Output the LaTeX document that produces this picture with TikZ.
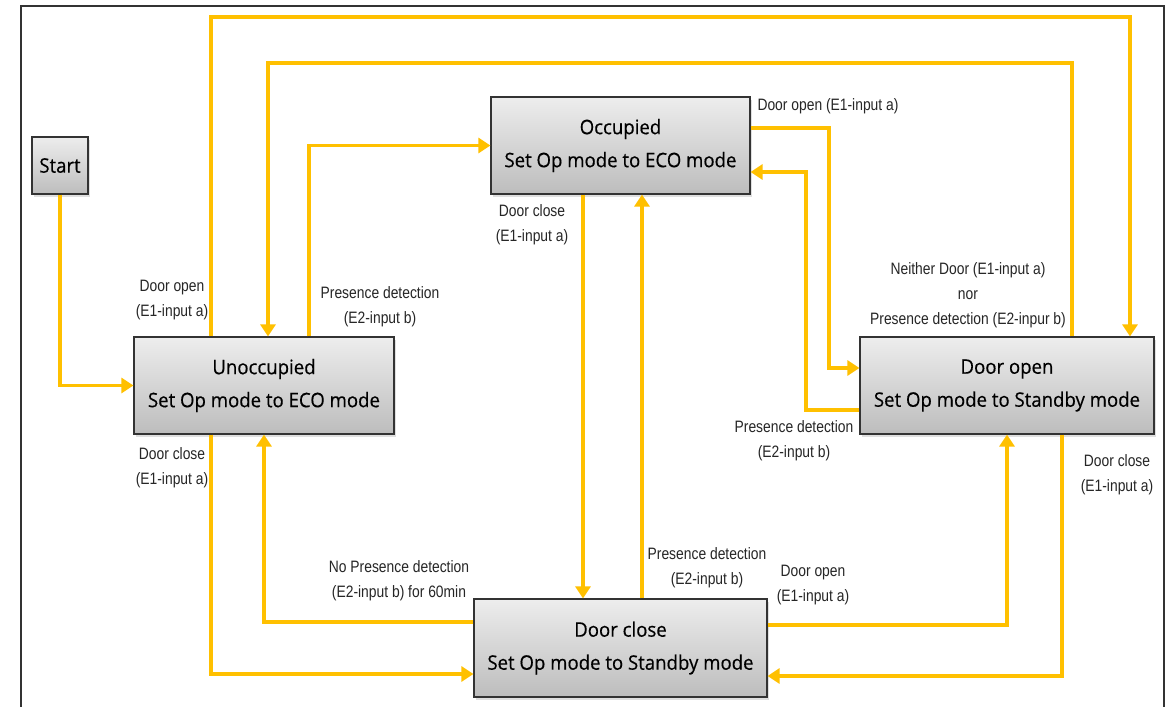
\documentclass[tikz,border=0pt]{standalone}
\usepackage{fontspec}
\setmainfont{Open Sans}
\newfontfamily\boxfont[FakeStretch=0.93,FakeBold=0.4]{Open Sans}
\newfontfamily\lblfont[FakeStretch=0.84]{Liberation Sans}
\usetikzlibrary{arrows.meta,shadows}
\definecolor{amber}{HTML}{FFC000}
\definecolor{boxtop}{HTML}{EDEDED}
\definecolor{boxbot}{HTML}{BDBDBD}
\definecolor{frame}{HTML}{333333}
\tikzset{
  statebox/.style={draw=frame, line width=1.2pt, top color=boxtop, bottom color=boxbot,
    drop shadow={shadow xshift=2pt, shadow yshift=-2.5pt, opacity=0.25},
    align=center, inner sep=0pt, font=\boxfont\fontsize{20}{33}\selectfont},
  arr/.style={draw=amber, line width=3.6pt, -{Triangle[length=12pt,width=15pt]}},
  lbl/.style={align=center, inner sep=0pt, text=black!85, font=\lblfont\fontsize{16.5}{25}\selectfont}
}
\begin{document}
\begin{tikzpicture}[x=1pt,y=-1pt]
\useasboundingbox (0,0) rectangle (1173,707);
\fill[white] (0,0) rectangle (1173,707);
\draw[frame, line width=1.4pt] (21,707) -- (21,6) -- (1164,6) -- (1164,707);

\node[statebox, minimum width=56pt, minimum height=57pt] (start) at (60,165.5) {Start};
\node[statebox, minimum width=260pt, minimum height=97pt] (unocc) at (264,385.5) {Unoccupied\\Set Op mode to ECO mode};
\node[statebox, minimum width=259pt, minimum height=97pt] (occ) at (620.5,145.5) {Occupied\\Set Op mode to ECO mode};
\node[statebox, minimum width=294pt, minimum height=97pt] (dopen) at (1007,385.5) {Door open\\Set Op mode to Standby mode};
\node[statebox, minimum width=293pt, minimum height=98pt] (dclose) at (620.5,648) {Door close\\Set Op mode to Standby mode};

% connectors
\draw[arr] (start.south) |- (unocc.west);
\draw[arr] (211,0 |- unocc.north) -- (211,17) -| (1130,0 |- dopen.north);
\draw[arr] (1072,0 |- dopen.north) -- (1072,63) -| (268,0 |- unocc.north);
\draw[arr] (309,0 |- unocc.north) |- (occ.west);
\draw[arr] (occ.east |- 0,128) -| (829,368) -- (dopen.west |- 0,368);
\draw[arr] (dopen.west |- 0,410) -| (806,172) -- (occ.east |- 0,172);
\draw[arr] (583,0 |- occ.south) -- (583,0 |- dclose.north);
\draw[arr] (642,0 |- dclose.north) -- (642,0 |- occ.south);
\draw[arr] (211,0 |- unocc.south) |- (dclose.west |- 0,674);
\draw[arr] (dclose.west |- 0,622) -| (unocc.south);
\draw[arr] (dclose.east |- 0,625) -| (dopen.south);
\draw[arr] (1062,0 |- dopen.south) |- (dclose.east |- 0,676);

% labels
\node[lbl] (l1) at (172,300.5) {Door open\\(E1-input a)};
\node[lbl] (l2) at (380,306.5) {Presence detection\\(E2-input b)};
\node[lbl] (l3) at (828,106) {Door open (E1-input a)};
\node[lbl] (l4) at (532,224.5) {Door close\\(E1-input a)};
\node[lbl] (l5) at (968,295.5) {Neither Door (E1-input a)\\nor\\Presence detection (E2-inpur b)};
\node[lbl] (l6) at (794,440.5) {Presence detection\\(E2-input b)};
\node[lbl] (l7) at (172,467.5) {Door close\\(E1-input a)};
\node[lbl] (l8) at (1117,474.5) {Door close\\(E1-input a)};
\node[lbl] (l9) at (399,580.5) {No Presence detection\\(E2-input b) for 60min};
\node[lbl] (l10) at (707,568) {Presence detection\\(E2-input b)};
\node[lbl] (l11) at (813,585.5) {Door open\\(E1-input a)};
\end{tikzpicture}
\end{document}
